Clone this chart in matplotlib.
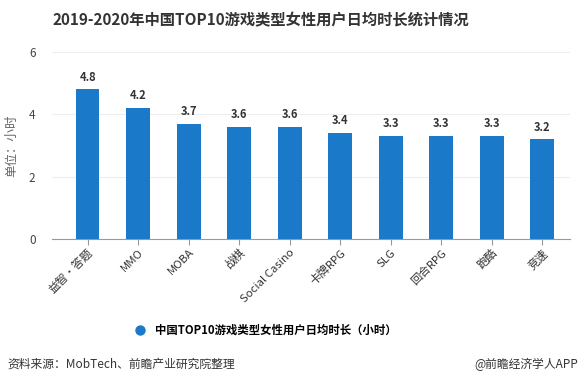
import matplotlib
matplotlib.use("Agg")
import matplotlib.pyplot as plt
from matplotlib.lines import Line2D

plt.rcParams['font.family'] = ['Noto Sans CJK SC', 'DejaVu Sans']

categories = ["益智·答题", "MMO", "MOBA", "战棋", "Social Casino", "卡牌RPG", "SLG", "回合RPG", "跑酷", "竞速"]
values = [4.8, 4.2, 3.7, 3.6, 3.6, 3.4, 3.3, 3.3, 3.3, 3.2]
yticks = [0, 2, 4, 6]

fig = plt.figure(figsize=(5.8, 3.84), dpi=100)
ax = fig.add_axes([0.09, 0.378, 0.893, 0.487])

bar_color = "#1a79c9"
x = list(range(len(categories)))
ax.bar(x, values, width=0.47, color=bar_color, zorder=3)
for xi, v in zip(x, values):
    ax.text(xi, v + 0.18, f"{v:.1f}", ha="center", va="bottom", fontsize=8,
            fontweight="bold", color="#333333")

ax.set_xlim(-0.7, len(categories) - 0.45)
ax.set_ylim(0, 6)
ax.set_yticks(yticks)
ax.set_yticklabels([str(t) for t in yticks], fontsize=8.5, color="#444444")
ax.grid(axis="y", color="#eeeeee", linewidth=0.8, zorder=0)
ax.set_xticks(x)
ax.set_xticklabels(categories, rotation=45, ha="right", rotation_mode="anchor",
                   fontsize=8.2, color="#333333")
for s in ["top", "right", "left"]:
    ax.spines[s].set_visible(False)
ax.spines["bottom"].set_color("#999999")
ax.tick_params(axis="y", length=0, pad=12)
ax.tick_params(axis="x", length=4, color="#999999", pad=2)
ax.set_ylabel("单位：小时", fontsize=9, color="#666666", labelpad=8)

fig.text(0.45, 0.948, "2019-2020年中国TOP10游戏类型女性用户日均时长统计情况",
         ha="center", va="center", fontsize=11, fontweight="bold", color="#333333")

legend_handle = Line2D([0], [0], marker="o", color="w", markerfacecolor=bar_color,
                       markersize=8.5, linestyle="None")
fig.legend([legend_handle], ["中国TOP10游戏类型女性用户日均时长（小时）"],
           loc="center", bbox_to_anchor=(0.453, 0.14), frameon=False,
           prop={"size": 8.2, "weight": "bold"}, handletextpad=0.3)

fig.text(0.012, 0.052, "资料来源：MobTech、前瞻产业研究院整理", fontsize=8.5,
         color="#333333", ha="left", va="center")
fig.text(0.997, 0.052, "@前瞻经济学人APP", fontsize=8.5, color="#333333",
         ha="right", va="center")

fig.savefig("out.png", dpi=100)
